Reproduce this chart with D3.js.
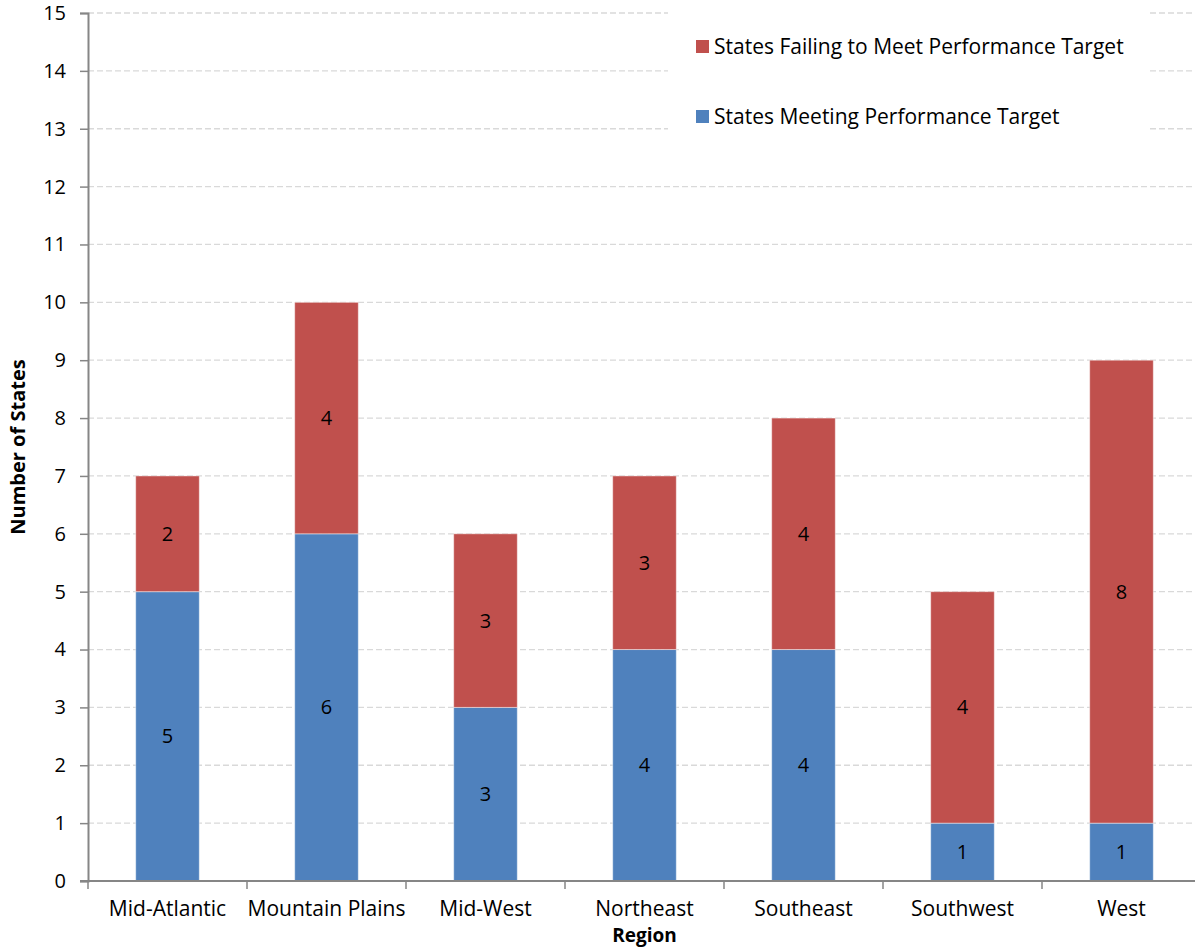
<!DOCTYPE html>
<html>
<head>
<meta charset="utf-8">
<script src="https://cdn.jsdelivr.net/npm/d3@7"></script>
<style>
  html, body { margin: 0; padding: 0; background: #fff; overflow: hidden; }
  svg { display: block; font-family: "Open Sans", Lato, sans-serif; }
</style>
</head>
<body>
<svg id="chart" width="1195" height="947"></svg>
<script>
// Regions and the two stacked series (number of states)
const regions = ["Mid-Atlantic", "Mountain Plains", "Mid-West", "Northeast", "Southeast", "Southwest", "West"];
const meeting = [5, 6, 3, 4, 4, 1, 1];
const failing = [2, 4, 3, 3, 4, 4, 8];
const seriesNames = ["States Failing to Meet Performance Target", "States Meeting Performance Target"];
const yTicks = d3.range(0, 16);

const colors = { meeting: "#4f81bd", failing: "#c0504d" };
const FS = 21;

const svg = d3.select("#chart");
const margin = { left: 88, top: 13, bottom: 66 };
const plotRight = 1201;
const plotBottom = 947 - margin.bottom;

const x = d3.scaleBand().domain(regions).range([margin.left, plotRight]).padding(0);
const y = d3.scaleLinear().domain([0, 15]).range([plotBottom, margin.top]);
const barW = x.bandwidth() * 0.4;

const rows = regions.map((r, i) => ({ region: r, meeting: meeting[i], failing: failing[i] }));
const stack = d3.stack().keys(["meeting", "failing"])(rows);

// Horizontal dashed gridlines
svg.append("g")
  .selectAll("line")
  .data(yTicks.filter(d => d > 0))
  .join("line")
  .attr("x1", margin.left).attr("x2", plotRight)
  .attr("y1", d => y(d)).attr("y2", d => y(d))
  .attr("stroke", "#d9d9d9").attr("stroke-width", 1.3)
  .attr("stroke-dasharray", "6,3");

// Stacked bars
const layers = svg.append("g")
  .selectAll("g")
  .data(stack)
  .join("g")
  .attr("fill", d => colors[d.key]);

layers.selectAll("rect")
  .data(d => d)
  .join("rect")
  .attr("x", d => x(d.data.region) + (x.bandwidth() - barW) / 2)
  .attr("width", barW)
  .attr("y", d => y(d[1]))
  .attr("height", d => y(d[0]) - y(d[1]))
  .attr("stroke", "rgba(255,255,255,0.45)")
  .attr("stroke-width", 1);

// Value labels centred in each segment
layers.selectAll("text")
  .data(d => d)
  .join("text")
  .attr("x", d => x(d.data.region) + x.bandwidth() / 2)
  .attr("y", d => y((d[0] + d[1]) / 2))
  .attr("dy", "0.35em")
  .attr("text-anchor", "middle")
  .attr("fill", "#000")
  .attr("font-size", FS - 1)
  .text(d => d[1] - d[0]);

// Y axis
const yAxis = svg.append("g")
  .attr("transform", `translate(${margin.left},0)`)
  .call(d3.axisLeft(y).tickValues(yTicks).tickFormat(d3.format("d")).tickSize(8).tickPadding(14));
yAxis.select(".domain").attr("stroke", "#868686").attr("stroke-width", 2);
yAxis.selectAll(".tick line").attr("stroke", "#868686").attr("stroke-width", 1.5);
yAxis.selectAll(".tick text").attr("font-size", FS - 1).attr("fill", "#000").attr("font-family", "'Open Sans', sans-serif");

// X axis with ticks at band boundaries
const xg = svg.append("g").attr("transform", `translate(0,${plotBottom})`);
xg.append("line")
  .attr("x1", margin.left - 8).attr("x2", plotRight)
  .attr("y1", 0).attr("y2", 0)
  .attr("stroke", "#868686").attr("stroke-width", 2);
xg.selectAll("line.tk")
  .data(regions.map(r => x(r)).concat([plotRight]))
  .join("line")
  .attr("class", "tk")
  .attr("x1", d => d).attr("x2", d => d)
  .attr("y1", 0).attr("y2", 8)
  .attr("stroke", "#868686").attr("stroke-width", 1.5);
xg.selectAll("text")
  .data(regions)
  .join("text")
  .attr("x", d => x(d) + x.bandwidth() / 2)
  .attr("y", 35)
  .attr("text-anchor", "middle")
  .attr("font-size", FS)
  .attr("fill", "#000")
  .text(d => d);

// Axis titles
svg.append("text")
  .attr("x", (margin.left + plotRight) / 2)
  .attr("y", 942)
  .attr("text-anchor", "middle")
  .attr("font-size", FS - 2).attr("font-weight", "bold")
  .text("Region");

svg.append("text")
  .attr("transform", `translate(25,${(margin.top + plotBottom) / 2}) rotate(-90)`)
  .attr("text-anchor", "middle")
  .attr("font-size", FS - 1).attr("font-weight", "bold")
  .text("Number of States");

// Legend on a white panel over the gridlines
const legend = svg.append("g");
legend.append("rect")
  .attr("x", 668).attr("y", 8).attr("width", 480).attr("height", 136)
  .attr("fill", "#fff");
const legendItems = [
  { name: seriesNames[0], color: colors.failing, cy: 47 },
  { name: seriesNames[1], color: colors.meeting, cy: 117 }
];
const li = legend.selectAll("g.item").data(legendItems).join("g").attr("class", "item");
li.append("rect")
  .attr("x", 696).attr("y", d => d.cy - 7)
  .attr("width", 13).attr("height", 13)
  .attr("fill", d => d.color);
li.append("text")
  .attr("x", 714).attr("y", d => d.cy)
  .attr("dy", "0.35em")
  .attr("font-size", FS)
  .attr("fill", "#000")
  .text(d => d.name);
</script>
</body>
</html>
